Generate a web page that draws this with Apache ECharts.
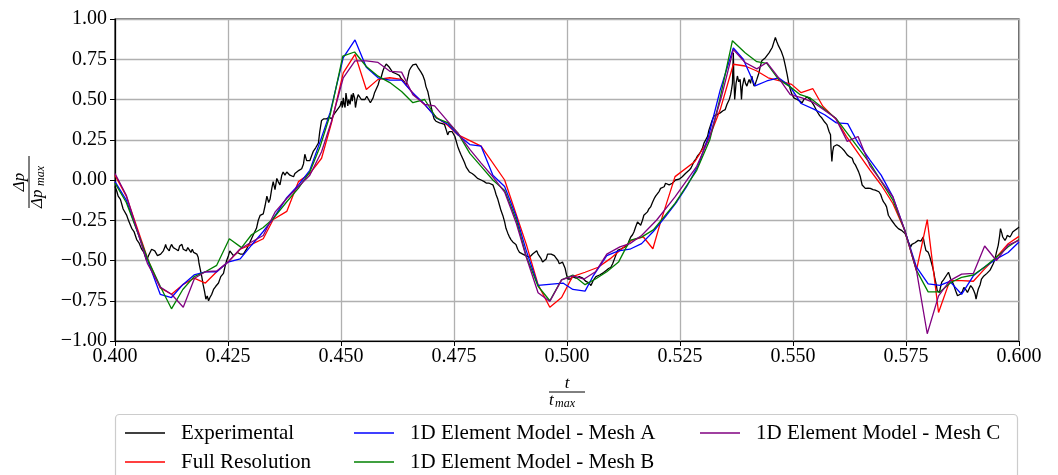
<!DOCTYPE html>
<html>
<head>
<meta charset="utf-8">
<script src="https://cdn.jsdelivr.net/npm/echarts@6/dist/echarts.min.js"></script>
<style>
  html, body { margin: 0; padding: 0; background: #fff; }
  #chart { width: 1058px; height: 475px; }
</style>
</head>
<body>
<div id="chart"></div>
<script>
// x = t / t_max, y = Δp / Δp_max
var xTicks = [0.4, 0.6, 0.025];
var yTicks = [-1, 1, 0.25];

var experimental = [
  [0.4000,-0.04],[0.4004,-0.07],[0.4007,-0.10],[0.4012,-0.12],[0.4018,-0.18],[0.4022,-0.19],[0.4026,-0.22],[0.4031,-0.26],[0.4037,-0.30],[0.4042,-0.32],
  [0.4048,-0.37],[0.4053,-0.39],[0.4059,-0.43],[0.4064,-0.45],[0.4070,-0.50],[0.4074,-0.47],[0.4077,-0.46],[0.4081,-0.43],[0.4085,-0.42],[0.4088,-0.44],
  [0.4090,-0.45],[0.4094,-0.47],[0.4097,-0.48],[0.4101,-0.46],[0.4104,-0.45],[0.4107,-0.44],[0.4110,-0.42],[0.4112,-0.40],[0.4114,-0.42],[0.4117,-0.41],
  [0.4120,-0.44],[0.4122,-0.42],[0.4125,-0.40],[0.4129,-0.42],[0.4132,-0.41],[0.4135,-0.43],[0.4138,-0.42],[0.4140,-0.44],[0.4143,-0.41],[0.4146,-0.42],
  [0.4148,-0.40],[0.4151,-0.43],[0.4155,-0.42],[0.4158,-0.44],[0.4161,-0.42],[0.4164,-0.43],[0.4168,-0.45],[0.4171,-0.43],[0.4174,-0.45],[0.4178,-0.44],
  [0.4181,-0.46],[0.4184,-0.48],[0.4186,-0.52],[0.4189,-0.56],[0.4192,-0.60],[0.4195,-0.65],[0.4198,-0.69],[0.4201,-0.74],[0.4204,-0.72],[0.4207,-0.75],
  [0.4210,-0.73],[0.4214,-0.71],[0.4218,-0.68],[0.4223,-0.66],[0.4229,-0.64],[0.4234,-0.60],[0.4240,-0.58],[0.4244,-0.53],[0.4247,-0.50],[0.4251,-0.47],
  [0.4254,-0.44],[0.4258,-0.45],[0.4262,-0.47],[0.4266,-0.47],[0.4271,-0.45],[0.4277,-0.46],[0.4284,-0.46],[0.4291,-0.43],[0.4298,-0.39],[0.4306,-0.34],
  [0.4310,-0.33],[0.4313,-0.30],[0.4317,-0.25],[0.4321,-0.22],[0.4325,-0.23],[0.4328,-0.21],[0.4332,-0.16],[0.4336,-0.10],[0.4340,-0.14],[0.4343,-0.12],
  [0.4347,-0.05],[0.4350,-0.01],[0.4354,-0.06],[0.4358,0.01],[0.4361,-0.01],[0.4365,-0.03],[0.4369,0.03],[0.4372,0.05],[0.4376,0.03],[0.4380,0.05],
  [0.4384,0.04],[0.4387,0.03],[0.4391,0.02],[0.4395,0.02],[0.4398,0.04],[0.4402,0.05],[0.4407,0.06],[0.4413,0.07],[0.4417,0.10],[0.4420,0.16],
  [0.4424,0.12],[0.4428,0.11],[0.4431,0.12],[0.4435,0.15],[0.4439,0.18],[0.4444,0.20],[0.4450,0.23],[0.4453,0.30],[0.4457,0.37],[0.4462,0.38],
  [0.4468,0.38],[0.4474,0.39],[0.4479,0.38],[0.4485,0.41],[0.4490,0.43],[0.4494,0.44],[0.4498,0.46],[0.4501,0.49],[0.4503,0.45],[0.4505,0.51],
  [0.4507,0.47],[0.4509,0.45],[0.4511,0.54],[0.4513,0.53],[0.4515,0.46],[0.4517,0.50],[0.4520,0.47],[0.4523,0.53],[0.4525,0.49],[0.4527,0.54],
  [0.4530,0.51],[0.4532,0.45],[0.4535,0.50],[0.4538,0.53],[0.4542,0.52],[0.4545,0.50],[0.4549,0.51],[0.4553,0.50],[0.4557,0.52],[0.4561,0.50],
  [0.4565,0.48],[0.4568,0.47],[0.4571,0.51],[0.4574,0.54],[0.4578,0.55],[0.4582,0.59],[0.4585,0.62],[0.4589,0.64],[0.4593,0.68],[0.4596,0.70],
  [0.4600,0.72],[0.4603,0.72],[0.4607,0.70],[0.4610,0.69],[0.4614,0.67],[0.4618,0.67],[0.4622,0.66],[0.4626,0.65],[0.4629,0.65],[0.4633,0.63],
  [0.4636,0.62],[0.4640,0.61],[0.4644,0.59],[0.4648,0.64],[0.4651,0.68],[0.4655,0.70],[0.4659,0.715],[0.4663,0.72],[0.4666,0.72],[0.4670,0.70],
  [0.4673,0.69],[0.4677,0.67],[0.4681,0.65],[0.4685,0.62],[0.4688,0.58],[0.4692,0.55],[0.4695,0.51],[0.4699,0.46],[0.4703,0.41],[0.4706,0.38],
  [0.4710,0.365],[0.4714,0.36],[0.4718,0.355],[0.4724,0.35],[0.4729,0.345],[0.4733,0.31],[0.4736,0.28],[0.4739,0.30],[0.4742,0.31],[0.4746,0.30],
  [0.4749,0.30],[0.4752,0.27],[0.4754,0.25],[0.4758,0.21],[0.4762,0.18],[0.4765,0.16],[0.4769,0.135],[0.4773,0.11],[0.4777,0.08],[0.4780,0.07],
  [0.4784,0.05],[0.4790,0.04],[0.4795,0.03],[0.4799,0.02],[0.4802,0.01],[0.4806,0.01],[0.4810,0.0],[0.4813,-0.01],[0.4817,-0.01],[0.4822,-0.02],
  [0.4828,-0.02],[0.4832,-0.03],[0.4836,-0.03],[0.4840,-0.06],[0.4843,-0.09],[0.4847,-0.12],[0.4851,-0.16],[0.4854,-0.19],[0.4858,-0.22],[0.4862,-0.26],
  [0.4865,-0.30],[0.4869,-0.33],[0.4872,-0.35],[0.4876,-0.37],[0.4880,-0.385],[0.4884,-0.39],[0.4887,-0.40],[0.4891,-0.43],[0.4895,-0.45],[0.4898,-0.45],
  [0.4902,-0.46],[0.4906,-0.46],[0.4909,-0.47],[0.4913,-0.47],[0.4917,-0.48],[0.4920,-0.47],[0.4924,-0.46],[0.4928,-0.45],[0.4933,-0.44],[0.4936,-0.46],
  [0.4939,-0.47],[0.4943,-0.49],[0.4946,-0.51],[0.4950,-0.50],[0.4954,-0.49],[0.4957,-0.46],[0.4961,-0.45],[0.4965,-0.46],[0.4968,-0.47],[0.4972,-0.47],
  [0.4976,-0.485],[0.4980,-0.50],[0.4983,-0.52],[0.4987,-0.51],[0.4990,-0.51],[0.4993,-0.53],[0.4996,-0.55],[0.4999,-0.59],[0.5002,-0.615],[0.5005,-0.62],
  [0.5009,-0.615],[0.5012,-0.60],[0.5016,-0.594],[0.5020,-0.61],[0.5024,-0.615],[0.5027,-0.60],[0.5031,-0.594],[0.5035,-0.61],[0.5038,-0.615],[0.5042,-0.63],
  [0.5046,-0.635],[0.5049,-0.64],[0.5053,-0.656],[0.5057,-0.63],[0.5060,-0.615],[0.5064,-0.60],[0.5068,-0.594],[0.5072,-0.59],[0.5075,-0.583],[0.5081,-0.575],
  [0.5086,-0.563],[0.5092,-0.55],[0.5097,-0.542],[0.5101,-0.52],[0.5105,-0.49],[0.5109,-0.46],[0.5112,-0.4375],[0.5116,-0.43],[0.5120,-0.427],[0.5124,-0.42],
  [0.5127,-0.417],[0.5130,-0.41],[0.5134,-0.406],[0.5137,-0.38],[0.5141,-0.354],[0.5145,-0.34],[0.5148,-0.323],[0.5152,-0.29],[0.5156,-0.26],[0.5159,-0.27],
  [0.5163,-0.281],[0.5167,-0.25],[0.5170,-0.219],[0.5174,-0.21],[0.5178,-0.198],[0.5181,-0.18],[0.5185,-0.167],[0.5189,-0.14],[0.5193,-0.115],[0.5196,-0.10],
  [0.5200,-0.094],[0.5204,-0.07],[0.5207,-0.052],[0.5211,-0.045],[0.5215,-0.042],[0.5218,-0.02],[0.5222,-0.01],[0.5226,-0.03],[0.5229,-0.042],[0.5233,-0.02],
  [0.5237,-0.01],[0.5240,0.0],[0.5244,0.01],[0.5248,0.005],[0.5252,0.0],[0.5255,0.02],[0.5259,0.031],[0.5262,0.04],[0.5266,0.052],[0.5270,0.06],
  [0.5274,0.073],[0.5277,0.09],[0.5281,0.115],[0.5285,0.13],[0.5288,0.146],[0.5292,0.16],[0.5296,0.177],[0.5300,0.20],[0.5303,0.229],[0.5307,0.25],
  [0.5311,0.271],[0.5314,0.31],[0.5318,0.344],[0.5321,0.37],[0.5325,0.396],[0.5330,0.405],[0.5334,0.41],[0.5339,0.417],[0.5345,0.43],[0.5350,0.4375],
  [0.5354,0.47],[0.5357,0.46],[0.5359,0.50],[0.5362,0.53],[0.5364,0.5625],[0.5366,0.60],[0.5368,0.79],[0.5369,0.65],[0.5371,0.50],[0.5374,0.60],
  [0.5377,0.646],[0.5380,0.61],[0.5383,0.625],[0.5385,0.55],[0.5386,0.50],[0.5388,0.58],[0.5392,0.635],[0.5395,0.60],[0.5398,0.583],[0.5401,0.61],
  [0.5403,0.625],[0.5406,0.60],[0.5409,0.646],[0.5412,0.60],[0.5414,0.583],[0.5417,0.60],[0.5420,0.625],[0.5424,0.66],[0.5427,0.698],[0.5431,0.74],
  [0.5435,0.745],[0.5439,0.76],[0.5443,0.76],[0.5447,0.79],[0.5450,0.80],[0.5454,0.823],[0.5457,0.85],[0.5461,0.885],[0.5464,0.86],[0.5468,0.833],
  [0.5474,0.80],[0.5479,0.76],[0.5483,0.71],[0.5487,0.656],[0.5490,0.61],[0.5494,0.5625],[0.5498,0.53],[0.5502,0.51],[0.5505,0.505],[0.5509,0.50],
  [0.5515,0.49],[0.5520,0.479],[0.5524,0.50],[0.5527,0.51],[0.5531,0.515],[0.5535,0.521],[0.5538,0.50],[0.5542,0.49],[0.5547,0.46],[0.5553,0.427],
  [0.5559,0.40],[0.5564,0.385],[0.5570,0.36],[0.5575,0.344],[0.5580,0.30],[0.5583,0.281],[0.5584,0.20],[0.5586,0.115],[0.5588,0.18],[0.5590,0.208],
  [0.5594,0.215],[0.5597,0.219],[0.5603,0.21],[0.5608,0.198],[0.5614,0.18],[0.5620,0.156],[0.5625,0.145],[0.5631,0.135],[0.5634,0.11],[0.5638,0.094],
  [0.5642,0.07],[0.5645,0.052],[0.5649,0.02],[0.5653,-0.031],[0.5656,-0.04],[0.5660,-0.052],[0.5666,-0.05],[0.5671,-0.052],[0.5677,-0.06],[0.5682,-0.0625],
  [0.5686,-0.07],[0.5690,-0.073],[0.5694,-0.09],[0.5697,-0.115],[0.5700,-0.135],[0.5704,-0.15],[0.5707,-0.167],[0.5711,-0.219],[0.5714,-0.23],[0.5718,-0.25],
  [0.5722,-0.26],[0.5726,-0.281],[0.5730,-0.29],[0.5733,-0.302],[0.5737,-0.31],[0.5740,-0.3125],[0.5744,-0.32],[0.5748,-0.333],[0.5752,-0.36],[0.5755,-0.385],
  [0.5758,-0.40],[0.5760,-0.417],[0.5763,-0.40],[0.5766,-0.396],[0.5770,-0.39],[0.5774,-0.385],[0.5777,-0.375],[0.5780,-0.365],[0.5783,-0.38],[0.5785,-0.385],
  [0.5788,-0.354],[0.5791,-0.40],[0.5794,-0.4375],[0.5797,-0.44],[0.5799,-0.448],[0.5802,-0.47],[0.5805,-0.50],[0.5809,-0.542],[0.5812,-0.58],[0.5814,-0.615],
  [0.5817,-0.65],[0.5819,-0.6875],[0.5824,-0.698],[0.5826,-0.67],[0.5829,-0.635],[0.5833,-0.62],[0.5836,-0.615],[0.5840,-0.59],[0.5844,-0.573],[0.5846,-0.59],
  [0.5849,-0.615],[0.5853,-0.635],[0.5856,-0.656],[0.5860,-0.69],[0.5864,-0.719],[0.5867,-0.71],[0.5871,-0.708],[0.5875,-0.69],[0.5878,-0.667],[0.5882,-0.68],
  [0.5886,-0.698],[0.5889,-0.68],[0.5893,-0.656],[0.5897,-0.67],[0.5900,-0.6875],[0.5903,-0.71],[0.5905,-0.74],[0.5908,-0.70],[0.5910,-0.677],[0.5914,-0.65],
  [0.5917,-0.615],[0.5921,-0.60],[0.5925,-0.594],[0.5929,-0.58],[0.5932,-0.573],[0.5936,-0.56],[0.5940,-0.552],[0.5943,-0.52],[0.5947,-0.49],[0.5950,-0.45],
  [0.5954,-0.406],[0.5957,-0.35],[0.5959,-0.302],[0.5962,-0.33],[0.5964,-0.354],[0.5967,-0.36],[0.5969,-0.375],[0.5972,-0.36],[0.5974,-0.344],[0.5977,-0.35],
  [0.5980,-0.354],[0.5983,-0.34],[0.5986,-0.323],[0.5989,-0.318],[0.5991,-0.3125],[0.5994,-0.31],[0.5996,-0.302],[0.6000,-0.292]
];

var fullResolution = [
  [0.4000,0.03],[0.4025,-0.10],[0.4075,-0.51],[0.4100,-0.67],[0.4125,-0.71],[0.4150,-0.65],[0.4175,-0.61],[0.4200,-0.64],[0.4225,-0.57],[0.4250,-0.51],
  [0.4277,-0.43],[0.4302,-0.40],[0.4328,-0.365],[0.4350,-0.245],[0.4380,-0.195],[0.4406,-0.01],[0.4431,0.04],[0.4457,0.135],[0.4479,0.355],[0.4505,0.665],
  [0.4531,0.78],[0.4556,0.5625],[0.4582,0.625],[0.4608,0.635],[0.4634,0.625],[0.4662,0.53],[0.4686,0.465],[0.4711,0.39],[0.4736,0.34],[0.4759,0.28],
  [0.4810,0.21],[0.4862,0.0],[0.4910,-0.40],[0.4936,-0.65],[0.4962,-0.79],[0.4988,-0.73],[0.5012,-0.60],[0.5040,-0.573],[0.5069,-0.542],[0.5095,-0.49],
  [0.5117,-0.4375],[0.5143,-0.375],[0.5169,-0.354],[0.5190,-0.427],[0.5206,-0.271],[0.5239,0.021],[0.5283,0.115],[0.5313,0.25],[0.5339,0.4375],[0.5368,0.719],
  [0.5394,0.708],[0.5420,0.677],[0.5445,0.635],[0.5471,0.615],[0.5497,0.594],[0.5518,0.542],[0.5544,0.567],[0.5566,0.458],[0.5596,0.375],[0.5618,0.271],
  [0.5670,0.0625],[0.5695,-0.031],[0.5721,-0.146],[0.5747,-0.3125],[0.5773,-0.5625],[0.5797,-0.246],[0.5822,-0.823],[0.5847,-0.625],[0.5873,-0.625],[0.5899,-0.629],
  [0.5924,-0.552],[0.5950,-0.479],[0.5976,-0.396],[0.6000,-0.35]
];

var meshA = [
  [0.4000,-0.01],[0.4025,-0.125],[0.4075,-0.52],[0.4100,-0.71],[0.4125,-0.73],[0.4150,-0.65],[0.4175,-0.59],[0.4200,-0.57],[0.4225,-0.57],[0.4250,-0.51],
  [0.4277,-0.49],[0.4302,-0.405],[0.4328,-0.32],[0.4350,-0.24],[0.4380,-0.11],[0.4406,-0.03],[0.4431,0.06],[0.4454,0.24],[0.4476,0.42],[0.4505,0.76],
  [0.4531,0.87],[0.4556,0.70],[0.4582,0.635],[0.4608,0.62],[0.4634,0.62],[0.4659,0.54],[0.4685,0.47],[0.4711,0.385],[0.4737,0.345],[0.4759,0.28],
  [0.4785,0.22],[0.4810,0.21],[0.4836,0.03],[0.4862,-0.04],[0.4888,-0.23],[0.4910,-0.44],[0.4936,-0.655],[0.4991,-0.64],[0.5013,-0.68],[0.5040,-0.69],
  [0.5058,-0.595],[0.5088,-0.47],[0.5114,-0.44],[0.5139,-0.43],[0.5165,-0.395],[0.5191,-0.32],[0.5217,-0.23],[0.5243,-0.135],[0.5265,-0.04],[0.5291,0.095],
  [0.5313,0.27],[0.5339,0.56],[0.5368,0.82],[0.5390,0.75],[0.5416,0.585],[0.5442,0.615],[0.5468,0.635],[0.5493,0.583],[0.5518,0.475],[0.5546,0.44],
  [0.5570,0.405],[0.5596,0.355],[0.5621,0.35],[0.5644,0.23],[0.5670,0.125],[0.5695,0.03],[0.5721,-0.105],[0.5747,-0.31],[0.5773,-0.54],[0.5799,-0.645],
  [0.5825,-0.655],[0.5847,-0.63],[0.5873,-0.71],[0.5899,-0.595],[0.5924,-0.54],[0.5950,-0.49],[0.5976,-0.45],[0.6000,-0.385]
];

var meshB = [
  [0.4000,-0.02],[0.4025,-0.14],[0.4075,-0.51],[0.4100,-0.66],[0.4125,-0.80],[0.4150,-0.68],[0.4175,-0.60],[0.4200,-0.57],[0.4225,-0.53],[0.4253,-0.365],
  [0.4280,-0.42],[0.4302,-0.34],[0.4328,-0.295],[0.4350,-0.24],[0.4380,-0.135],[0.4406,-0.05],[0.4431,0.05],[0.4454,0.21],[0.4476,0.405],[0.4504,0.77],
  [0.4530,0.795],[0.4556,0.705],[0.4582,0.645],[0.4608,0.605],[0.4634,0.55],[0.4659,0.48],[0.4685,0.50],[0.4711,0.385],[0.4737,0.355],[0.4759,0.29],
  [0.4785,0.165],[0.4810,0.085],[0.4836,0.0],[0.4862,-0.065],[0.4888,-0.25],[0.4910,-0.475],[0.4936,-0.66],[0.4962,-0.75],[0.4988,-0.62],[0.5013,-0.59],
  [0.5040,-0.65],[0.5063,-0.615],[0.5088,-0.57],[0.5114,-0.51],[0.5139,-0.375],[0.5165,-0.355],[0.5191,-0.31],[0.5239,-0.145],[0.5287,0.06],[0.5316,0.25],
  [0.5338,0.50],[0.5366,0.865],[0.5394,0.79],[0.5420,0.735],[0.5442,0.725],[0.5468,0.625],[0.5493,0.58],[0.5516,0.53],[0.5538,0.51],[0.5596,0.38],
  [0.5670,0.105],[0.5721,-0.125],[0.5747,-0.31],[0.5773,-0.56],[0.5799,-0.695],[0.5825,-0.695],[0.5850,-0.635],[0.5873,-0.605],[0.5899,-0.59],[0.5924,-0.54],
  [0.5950,-0.48],[0.5976,-0.415],[0.6000,-0.37]
];

var meshC = [
  [0.4000,0.04],[0.4025,-0.095],[0.4072,-0.52],[0.4100,-0.665],[0.4125,-0.71],[0.4151,-0.79],[0.4176,-0.61],[0.4200,-0.57],[0.4225,-0.565],[0.4250,-0.51],
  [0.4276,-0.43],[0.4302,-0.385],[0.4328,-0.345],[0.4354,-0.20],[0.4380,-0.115],[0.4406,-0.04],[0.4431,0.03],[0.4457,0.175],[0.4479,0.365],[0.4505,0.635],
  [0.4531,0.74],[0.4556,0.74],[0.4582,0.73],[0.4608,0.675],[0.4634,0.67],[0.4659,0.53],[0.4685,0.47],[0.4707,0.46],[0.4733,0.375],[0.4759,0.29],
  [0.4785,0.19],[0.4810,0.105],[0.4836,0.02],[0.4862,-0.075],[0.4888,-0.27],[0.4910,-0.48],[0.4936,-0.70],[0.4962,-0.755],[0.4988,-0.62],[0.5013,-0.595],
  [0.5038,-0.615],[0.5063,-0.57],[0.5088,-0.46],[0.5117,-0.415],[0.5139,-0.395],[0.5165,-0.345],[0.5198,-0.25],[0.5239,-0.105],[0.5287,0.085],[0.5316,0.27],
  [0.5342,0.52],[0.5368,0.81],[0.5394,0.73],[0.5420,0.69],[0.5442,0.73],[0.5468,0.635],[0.5494,0.53],[0.5520,0.51],[0.5546,0.48],[0.5594,0.385],
  [0.5620,0.24],[0.5644,0.27],[0.5670,0.09],[0.5721,-0.105],[0.5747,-0.31],[0.5773,-0.56],[0.5797,-0.955],[0.5822,-0.72],[0.5847,-0.625],[0.5873,-0.585],
  [0.5899,-0.58],[0.5924,-0.41],[0.5950,-0.50],[0.5976,-0.405],[0.6000,-0.375]
];

var seriesNames = ['Experimental', 'Full Resolution', '1D Element Model - Mesh A', '1D Element Model - Mesh B', '1D Element Model - Mesh C'];
var seriesColors = ['#000000', '#ff0000', '#0000ff', '#008000', '#800080'];
var seriesData = [experimental, fullResolution, meshA, meshB, meshC];

var serif = '"Liberation Serif", "DejaVu Serif", serif';

var chart = echarts.init(document.getElementById('chart'), null, { renderer: 'canvas' });

var series = [];
for (var i = 0; i < seriesNames.length; i++) {
  series.push({
    type: 'line',
    name: seriesNames[i],
    data: seriesData[i],
    symbol: 'none',
    showSymbol: false,
    clip: true,
    silent: true,
    lineStyle: { color: seriesColors[i], width: 1.3 },
    itemStyle: { color: seriesColors[i] },
    z: 3 + i
  });
}

// matplotlib puts the legend in 3 columns, filled top to bottom
function legendBox(names, left) {
  return {
    data: names,
    orient: 'vertical',
    left: left,
    top: 421,
    padding: 0,
    icon: 'rect',
    itemWidth: 40,
    itemHeight: 1.6,
    itemGap: 5,
    selectedMode: false,
    textStyle: { fontFamily: serif, fontSize: 21, color: '#000', lineHeight: 24, padding: [0, 0, 0, 11] }
  };
}

var minus = function (v) {
  return (v < 0 ? '\u2212' : '') + Math.abs(v).toFixed(2);
};

var option = {
  animation: false,
  backgroundColor: '#fff',
  grid: { left: 115, top: 19, width: 904, height: 322, show: true, borderColor: '#000', borderWidth: 1.2, backgroundColor: 'transparent' },
  xAxis: {
    type: 'value', min: xTicks[0], max: xTicks[1], interval: xTicks[2],
    axisLine: { show: true, onZero: false, lineStyle: { color: '#000', width: 1.2 } },
    axisTick: { show: true, inside: false, length: 5, lineStyle: { color: '#000', width: 1 } },
    axisLabel: { color: '#000', fontFamily: serif, fontSize: 20, margin: 6, formatter: function (v) { return v.toFixed(3); } },
    splitLine: { show: true, lineStyle: { color: '#b0b0b0', width: 1.3 } }
  },
  yAxis: {
    type: 'value', min: yTicks[0], max: yTicks[1], interval: yTicks[2],
    axisLine: { show: true, onZero: false, lineStyle: { color: '#000', width: 1.2 } },
    axisTick: { show: true, inside: false, length: 5, lineStyle: { color: '#000', width: 1 } },
    axisLabel: { color: '#000', fontFamily: serif, fontSize: 20, margin: 8, formatter: minus },
    splitLine: { show: true, lineStyle: { color: '#b0b0b0', width: 1.3 } }
  },
  legend: [
    legendBox([seriesNames[0], seriesNames[1]], 125),
    legendBox([seriesNames[2], seriesNames[3]], 354),
    legendBox([seriesNames[4]], 700)
  ],
  graphic: [
    {
      type: 'rect', z: 1, silent: true,
      shape: { x: 115.5, y: 414.5, width: 902, height: 80, r: 4 },
      style: { fill: '#fff', stroke: '#cccccc', lineWidth: 1.2 }
    },
    // x axis name: t / t_max
    {
      type: 'group', x: 567, y: 392, silent: true,
      children: [
        { type: 'text', x: 0, y: -8, style: { text: 't', font: 'italic 17px ' + serif, fill: '#000', align: 'center', verticalAlign: 'middle' } },
        { type: 'line', shape: { x1: -18, y1: 0, x2: 18, y2: 0 }, style: { stroke: '#000', lineWidth: 1 } },
        { type: 'text', x: -18, y: 9, style: { text: 't', font: 'italic 17px ' + serif, fill: '#000', align: 'left', verticalAlign: 'middle' } },
        { type: 'text', x: -12, y: 12, style: { text: 'max', font: 'italic 12px ' + serif, fill: '#000', align: 'left', verticalAlign: 'middle' } }
      ]
    },
    // y axis name: Δp / Δp_max
    {
      type: 'group', x: 29, y: 182, rotation: Math.PI / 2, silent: true,
      children: [
        { type: 'text', x: 0, y: -9, style: { text: '\u0394p', font: 'italic 17px ' + serif, fill: '#000', align: 'center', verticalAlign: 'middle' } },
        { type: 'line', shape: { x1: -26, y1: 0, x2: 26, y2: 0 }, style: { stroke: '#000', lineWidth: 1 } },
        { type: 'text', x: -26, y: 9, style: { text: '\u0394p', font: 'italic 17px ' + serif, fill: '#000', align: 'left', verticalAlign: 'middle' } },
        { type: 'text', x: -4, y: 12, style: { text: 'max', font: 'italic 12px ' + serif, fill: '#000', align: 'left', verticalAlign: 'middle' } }
      ]
    }
  ],
  series: series
};

chart.setOption(option);
</script>
</body>
</html>
